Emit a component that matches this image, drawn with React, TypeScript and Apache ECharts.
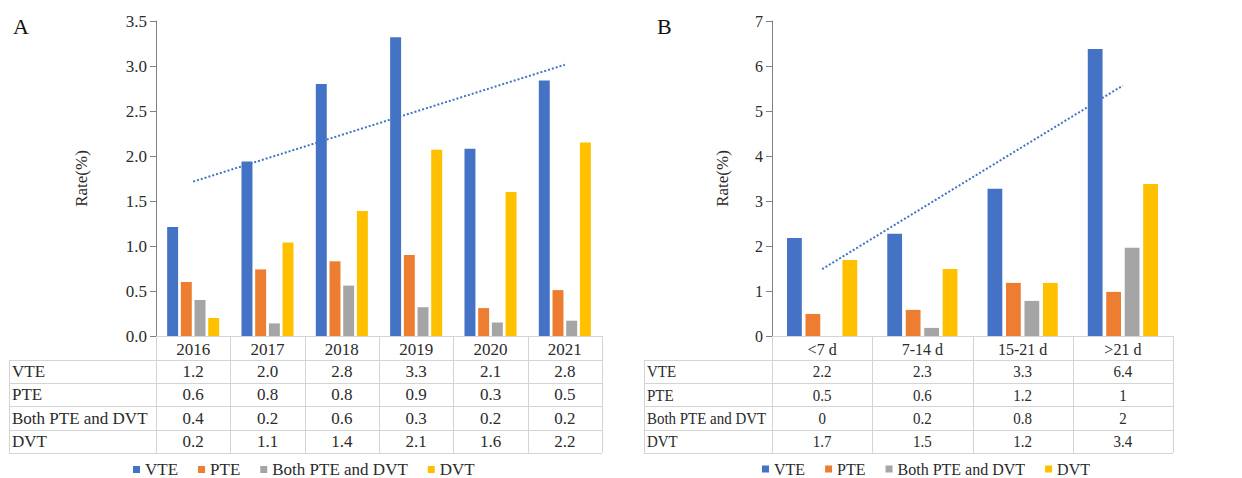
import React, { useEffect, useRef } from "react";
import * as echarts from "echarts";

// ---------- data ----------
const seriesNames = ["VTE", "PTE", "Both PTE and DVT", "DVT"];
const seriesColors = ["#4472C4", "#ED7D31", "#A5A5A5", "#FFC000"];

const yearsA = ["2016", "2017", "2018", "2019", "2020", "2021"];
const vteA = [1.21, 1.94, 2.8, 3.32, 2.08, 2.84];
const pteA = [0.6, 0.74, 0.83, 0.9, 0.31, 0.51];
const bothA = [0.4, 0.14, 0.56, 0.32, 0.15, 0.17];
const dvtA = [0.2, 1.04, 1.39, 2.07, 1.6, 2.15];
const tableVteA = ["1.2", "2.0", "2.8", "3.3", "2.1", "2.8"];
const tablePteA = ["0.6", "0.8", "0.8", "0.9", "0.3", "0.5"];
const tableBothA = ["0.4", "0.2", "0.6", "0.3", "0.2", "0.2"];
const tableDvtA = ["0.2", "1.1", "1.4", "2.1", "1.6", "2.2"];

const periodsB = ["<7 d", "7-14 d", "15-21 d", ">21 d"];
const vteB = [2.18, 2.27, 3.27, 6.38];
const pteB = [0.49, 0.58, 1.18, 0.98];
const bothB = [0, 0.18, 0.78, 1.96];
const dvtB = [1.69, 1.49, 1.18, 3.38];
const tableVteB = ["2.2", "2.3", "3.3", "6.4"];
const tablePteB = ["0.5", "0.6", "1.2", "1"];
const tableBothB = ["0", "0.2", "0.8", "2"];
const tableDvtB = ["1.7", "1.5", "1.2", "3.4"];

const yTicksA = { min: 0, max: 3.5, interval: 0.5 };
const yTicksB = { min: 0, max: 7, interval: 1 };

// ---------- helpers ----------
const FONT = "Liberation Serif";
const TEXT = "#2b2b2b";
const BORDER = "#d4d4d4";

function linearTrend(vals: number[]): number[] {
  const n = vals.length;
  const xs = vals.map((_, i) => i + 1);
  const mx = xs.reduce((a, b) => a + b, 0) / n;
  const my = vals.reduce((a, b) => a + b, 0) / n;
  let num = 0;
  let den = 0;
  for (let i = 0; i < n; i++) {
    num += (xs[i] - mx) * (vals[i] - my);
    den += (xs[i] - mx) * (xs[i] - mx);
  }
  const slope = num / den;
  return xs.map((x) => +(my + slope * (x - mx)).toFixed(4));
}

type Panel = {
  cats: string[];
  values: number[][];
  table: string[][];
  ticks: { min: number; max: number; interval: number };
  decimals: number;
  gridLeft: number;
  gridWidth: number;
  tableLeft: number;
  nameGap: number;
  legendLeft: number;
  fs: number;
  tableScaleX: number;
};

const GRID_TOP = 21;
const GRID_H = 315;
const HEADER_H = 24;
const ROW_H = 23.2;

const panels: Panel[] = [
  {
    cats: yearsA,
    values: [vteA, pteA, bothA, dvtA],
    table: [tableVteA, tablePteA, tableBothA, tableDvtA],
    ticks: yTicksA,
    decimals: 1,
    gridLeft: 156,
    gridWidth: 446,
    tableLeft: 9,
    nameGap: 66,
    legendLeft: 133,
    fs: 17,
    tableScaleX: 1,
  },
  {
    cats: periodsB,
    values: [vteB, pteB, bothB, dvtB],
    table: [tableVteB, tablePteB, tableBothB, tableDvtB],
    ticks: yTicksB,
    decimals: 0,
    gridLeft: 772,
    gridWidth: 401,
    tableLeft: 644,
    nameGap: 41,
    legendLeft: 762,
    fs: 16,
    tableScaleX: 0.88,
  },
];

function tableGraphics(p: Panel): any[] {
  const els: any[] = [];
  const n = p.cats.length;
  const colW = p.gridWidth / n;
  const bottom = GRID_TOP + GRID_H;
  const right = p.gridLeft + p.gridWidth;
  const rowTops = [0, 1, 2, 3, 4].map((k) => bottom + HEADER_H + k * ROW_H);
  const tableBottom = rowTops[4];
  const line = (x1: number, y1: number, x2: number, y2: number) => ({
    type: "line",
    silent: true,
    shape: { x1, y1, x2, y2 },
    style: { stroke: BORDER, lineWidth: 1 },
  });
  rowTops.forEach((y) => els.push(line(p.tableLeft, Math.round(y) + 0.5, right, Math.round(y) + 0.5)));
  els.push(line(p.tableLeft + 0.5, rowTops[0], p.tableLeft + 0.5, tableBottom));
  for (let k = 0; k <= n; k++) {
    const x = Math.round(p.gridLeft + k * colW) + 0.5;
    els.push(line(x, bottom, x, tableBottom));
  }
  for (let r = 0; r < 4; r++) {
    const cy = rowTops[r] + ROW_H / 2;
    els.push({
      type: "text",
      silent: true,
      x: p.tableLeft + 3,
      y: cy,
      scaleX: p.tableScaleX,
      style: {
        text: seriesNames[r],
        fill: TEXT,
        fontSize: 17,
        fontFamily: FONT,
        align: "left",
        verticalAlign: "middle",
      },
    });
    for (let c = 0; c < n; c++) {
      els.push({
        type: "text",
        silent: true,
        x: p.gridLeft + (c + 0.5) * colW,
        y: cy,
        scaleX: p.tableScaleX,
        style: {
          text: p.table[r][c],
          fill: TEXT,
          fontSize: 17,
          fontFamily: FONT,
          align: "center",
          verticalAlign: "middle",
        },
      });
    }
  }
  return els;
}

function buildOption(): any {
  const grid: any[] = [];
  const xAxis: any[] = [];
  const yAxis: any[] = [];
  const series: any[] = [];
  const legend: any[] = [];
  let graphic: any[] = [];

  panels.forEach((p, i) => {
    grid.push({ left: p.gridLeft, top: GRID_TOP, width: p.gridWidth, height: GRID_H });
    xAxis.push({
      type: "category",
      gridIndex: i,
      data: p.cats,
      axisLine: { lineStyle: { color: BORDER, width: 1 } },
      axisTick: { show: false },
      axisLabel: { color: TEXT, fontSize: p.fs, fontFamily: FONT, margin: 5 },
    });
    yAxis.push({
      type: "value",
      gridIndex: i,
      min: p.ticks.min,
      max: p.ticks.max,
      interval: p.ticks.interval,
      name: "Rate(%)",
      nameLocation: "middle",
      nameRotate: 90,
      nameGap: p.nameGap,
      nameTextStyle: { color: TEXT, fontSize: 17, fontFamily: FONT },
      axisLine: { show: true, lineStyle: { color: "#808080", width: 1 } },
      axisTick: { show: true, length: 6, lineStyle: { color: "#808080" } },
      axisLabel: {
        color: TEXT,
        fontSize: p.fs,
        fontFamily: FONT,
        margin: 9,
        formatter: (v: number) => v.toFixed(p.decimals),
      },
      splitLine: { show: false },
    });
    p.values.forEach((vals, s) => {
      series.push({
        type: "bar",
        name: seriesNames[s],
        xAxisIndex: i,
        yAxisIndex: i,
        data: vals,
        itemStyle: { color: seriesColors[s] },
        barGap: "25%",
        barCategoryGap: "30%",
      });
    });
    series.push({
      type: "line",
      name: "trend" + i,
      xAxisIndex: i,
      yAxisIndex: i,
      data: linearTrend(p.values[0]),
      showSymbol: false,
      symbol: "none",
      silent: true,
      z: 5,
      lineStyle: { color: "#4472C4", width: 2, type: "dotted" },
    });
    legend.push({
      data: seriesNames,
      left: p.legendLeft,
      top: 461,
      padding: 0,
      icon: "rect",
      itemWidth: 7,
      itemHeight: 7,
      itemGap: 20,
      selectedMode: false,
      textStyle: { color: TEXT, fontSize: p.fs, fontFamily: FONT },
    });
    graphic = graphic.concat(tableGraphics(p));
  });

  return {
    animation: false,
    backgroundColor: "#ffffff",
    title: [
      { text: "A", left: 8, top: 10, textStyle: { fontSize: 22, fontWeight: "normal", fontFamily: FONT, color: "#111" } },
      { text: "B", left: 652, top: 10, textStyle: { fontSize: 22, fontWeight: "normal", fontFamily: FONT, color: "#111" } },
    ],
    grid,
    xAxis,
    yAxis,
    series,
    legend,
    graphic,
  };
}

export default function App() {
  const ref = useRef<HTMLDivElement>(null);
  useEffect(() => {
    if (!ref.current) return;
    const chart = echarts.init(ref.current, undefined, { renderer: "svg" });
    chart.setOption(buildOption());
    return () => chart.dispose();
  }, []);
  return (
    <div
      ref={ref}
      style={{ position: "absolute", left: 0, top: 0, width: 1242, height: 478, background: "#fff" }}
    />
  );
}
